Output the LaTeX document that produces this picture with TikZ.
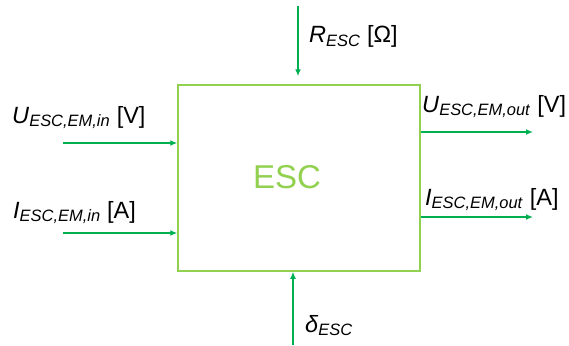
\documentclass[tikz,border=0pt]{standalone}
\usepackage{fontspec}
\setmainfont{Liberation Sans}
\usetikzlibrary{arrows.meta,positioning}

\definecolor{boxgreen}{HTML}{92D050}
\definecolor{siggreen}{HTML}{00B050}

\newcommand{\sig}[2]{\textit{#1}\textsubscript{\textit{#2}}}

\tikzset{
  sigline/.style={draw=siggreen, line width=1.3pt, -{Latex[length=7pt,width=6pt]}},
  siglabel/.style={anchor=base west, inner sep=0, font=\fontsize{23.5}{26}\selectfont},
}

\begin{document}
\begin{tikzpicture}[x=1pt,y=-1pt]
        \useasboundingbox (0,0) rectangle (569,345);

        % block
        \node[draw=boxgreen, line width=1.5pt, minimum width=242pt, minimum height=186pt] (esc) at (299,178) {};
        \node[text=boxgreen, font=\fontsize{33}{38}\selectfont] (esclabel) at (287,177) {ESC};

        % inputs on the left
        \coordinate (uin) at (63,143);
        \coordinate (iin) at (63,233);
        \draw[sigline] (uin) -- (uin -| esc.west);
        \draw[sigline] (iin) -- (iin -| esc.west);
        \node[siglabel] (uinlabel) at (12,123) {\sig{U}{ESC,EM,in} [V]};
        \node[siglabel] (iinlabel) at (13,218) {\sig{I}{ESC,EM,in} [A]};

        % resistance from the top, control from below
        \coordinate (rtop) at (298,6);
        \coordinate (dbot) at (293,345);
        \draw[sigline, shorten >=8pt] (rtop) -- (rtop |- esc.north);
        \draw[sigline] (dbot) -- (dbot |- esc.south);
        \node[siglabel] (rlabel) at (309,43) {\sig{R}{ESC} [Ω]};
        \node[siglabel] (dlabel) at (305,332) {\sig{δ}{ESC}};

        % outputs on the right
        \coordinate (uout) at (533,132);
        \coordinate (iout) at (533,217);
        \draw[sigline] (uout -| esc.east) -- (uout);
        \draw[sigline] (iout -| esc.east) -- (iout);
        \node[siglabel] (uoutlabel) at (422,112) {\sig{U}{ESC,EM,out} [V]};
        \node[siglabel] (ioutlabel) at (425,205) {\sig{I}{ESC,EM,out} [A]};
      \end{tikzpicture}
\end{document}
